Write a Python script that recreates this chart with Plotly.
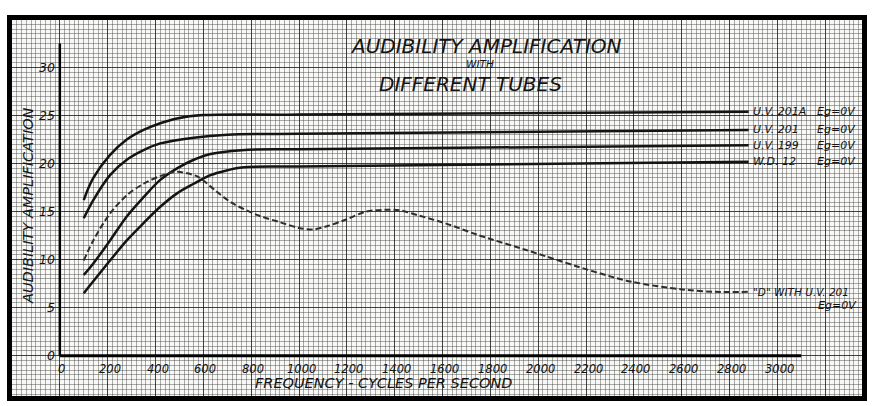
import plotly.graph_objects as go

# Audibility amplification vs. frequency for several receiving tubes (grid bias 0 V)
freq_uv201a = [100, 140, 210, 280, 350, 420, 490, 600, 1000, 2880]
amp_uv201a = [16.2, 18.5, 20.9, 22.5, 23.5, 24.2, 24.7, 25.05, 25.1, 25.4]

freq_uv201 = [100, 140, 210, 280, 350, 420, 560, 700, 1000, 2880]
amp_uv201 = [14.3, 16.2, 18.8, 20.4, 21.4, 22.1, 22.7, 23.0, 23.1, 23.5]

freq_uv199 = [100, 140, 210, 280, 350, 420, 490, 560, 630, 760, 1000, 2880]
amp_uv199 = [8.4, 9.6, 12.0, 14.5, 16.5, 18.3, 19.5, 20.4, 21.0, 21.4, 21.5, 21.9]

freq_wd12 = [100, 210, 280, 350, 420, 490, 560, 630, 700, 760, 1000, 2880]
amp_wd12 = [6.5, 9.9, 12.0, 13.8, 15.5, 16.9, 17.9, 18.8, 19.3, 19.6, 19.7, 20.2]

# "D" transformer with a UV-201
freq_d = [100, 140, 210, 280, 350, 420, 490, 530, 580, 650, 720, 830, 920, 1000,
          1060, 1120, 1200, 1280, 1380, 1420, 1500, 1610, 1750, 1950, 2240, 2390,
          2600, 2740, 2880]
amp_d = [9.9, 12.0, 14.8, 16.7, 17.9, 18.7, 19.15, 19.0, 18.6, 17.2, 15.9, 14.6,
         13.9, 13.3, 13.15, 13.5, 14.2, 15.0, 15.2, 15.15, 14.6, 13.8, 12.55, 11.0,
         8.7, 7.7, 6.9, 6.65, 6.65]

tube_names = ["U.V. 201A", "U.V. 201", "U.V. 199", "W.D. 12"]
bias_label = "Eg=0V"
d_label = '"D" WITH U.V. 201'

x_ticks = list(range(0, 3001, 200))
y_ticks = list(range(0, 31, 5))

# extent of the drawn axes and of the graph sheet
x_axis_end = 3100
y_axis_top = 32.5
x_range = [-200, 3354]
y_range = [-4.2, 34.95]

ink = "#141414"
font_family = "DejaVu Sans"

fig = go.Figure()

solid_series = [
    (freq_uv201a, amp_uv201a),
    (freq_uv201, amp_uv201),
    (freq_uv199, amp_uv199),
    (freq_wd12, amp_wd12),
]
for (fx, fy), name in zip(solid_series, tube_names):
    fig.add_trace(go.Scatter(
        x=fx, y=fy, mode="lines", name=name,
        line=dict(color=ink, width=2.5, shape="spline", smoothing=1.0),
        hoverinfo="skip",
    ))

fig.add_trace(go.Scatter(
    x=freq_d, y=amp_d, mode="lines", name=d_label,
    line=dict(color="#2e2e2e", width=2, dash="6px,3px", shape="spline", smoothing=0.9),
    hoverinfo="skip",
))

# the hand-ruled axes
fig.add_trace(go.Scatter(x=[0, x_axis_end], y=[0, 0], mode="lines",
                         line=dict(color="#000", width=3), hoverinfo="skip"))
fig.add_trace(go.Scatter(x=[0, 0], y=[0, y_axis_top], mode="lines",
                         line=dict(color="#000", width=2.5), hoverinfo="skip"))

annotations = []
# tick numbers written next to the axes
for t in y_ticks:
    annotations.append(dict(
        x=0, y=t, xref="x", yref="y", text=f"<i>{t}</i>", showarrow=False,
        xanchor="right", yanchor="middle", xshift=-3,
        font=dict(family=font_family, size=12.5, color=ink)))
for t in x_ticks:
    annotations.append(dict(
        x=t, y=0, xref="x", yref="y", text=f"<i>{t}</i>", showarrow=False,
        xanchor="center", yanchor="top", yshift=-4, xshift=2,
        font=dict(family=font_family, size=11.5, color=ink)))

# curve names at the right-hand ends
for (fx, fy), name in zip(solid_series, tube_names):
    annotations.append(dict(
        x=fx[-1], y=fy[-1], xref="x", yref="y", text=f"<i>{name}</i>",
        showarrow=False, xanchor="left", yanchor="middle", xshift=2,
        font=dict(family=font_family, size=11, color=ink)))
    annotations.append(dict(
        x=x_range[1], y=fy[-1], xref="x", yref="y", text=f"<i>{bias_label}</i>",
        showarrow=False, xanchor="right", yanchor="middle", xshift=-4,
        font=dict(family=font_family, size=11, color=ink)))
annotations.append(dict(
    x=freq_d[-1], y=amp_d[-1], xref="x", yref="y", text=f"<i>{d_label}</i>",
    showarrow=False, xanchor="left", yanchor="middle", xshift=2,
    font=dict(family=font_family, size=10.5, color=ink)))
annotations.append(dict(
    x=x_range[1], y=amp_d[-1], xref="x", yref="y", text=f"<i>{bias_label}</i>",
    showarrow=False, xanchor="right", yanchor="top", xshift=-3, yshift=-5,
    font=dict(family=font_family, size=11, color=ink)))

# title block
annotations += [
    dict(x=0.558, y=0.931, xref="paper", yref="paper", showarrow=False,
         text="<i>AUDIBILITY AMPLIFICATION</i>", xanchor="center", yanchor="middle",
         font=dict(family=font_family, size=20, color=ink)),
    dict(x=0.551, y=0.883, xref="paper", yref="paper", showarrow=False,
         text="<i>WITH</i>", xanchor="center", yanchor="middle",
         font=dict(family=font_family, size=10.5, color=ink)),
    dict(x=0.539, y=0.831, xref="paper", yref="paper", showarrow=False,
         text="<i>DIFFERENT TUBES</i>", xanchor="center", yanchor="middle",
         font=dict(family=font_family, size=20, color=ink)),
    dict(x=0.0195, y=0.507, xref="paper", yref="paper", showarrow=False,
         text="<i>AUDIBILITY AMPLIFICATION</i>", textangle=-90,
         xanchor="center", yanchor="middle",
         font=dict(family=font_family, size=14.5, color=ink)),
    dict(x=0.437, y=0.035, xref="paper", yref="paper", showarrow=False,
         text="<i>FREQUENCY - CYCLES PER SECOND</i>", xanchor="center", yanchor="middle",
         font=dict(family=font_family, size=14.5, color=ink)),
]

grid_minor = "rgba(60,60,60,0.42)"
grid_major = "rgba(20,20,20,0.8)"

fig.update_layout(
    width=877, height=406,
    margin=dict(l=12, r=12, t=20, b=10),
    paper_bgcolor="white",
    plot_bgcolor="#f8f8f6",
    showlegend=False,
    annotations=annotations,
    xaxis=dict(
        range=x_range, tick0=0, dtick=200, showticklabels=False, ticks="",
        showgrid=True, gridcolor=grid_major, gridwidth=1.2, zeroline=False,
        minor=dict(dtick=20, showgrid=True, gridcolor=grid_minor, gridwidth=1),
        showline=True, linecolor="#000", linewidth=5, mirror=True,
        fixedrange=True,
    ),
    yaxis=dict(
        range=y_range, tick0=0, dtick=5, showticklabels=False, ticks="",
        showgrid=True, gridcolor=grid_major, gridwidth=1.2, zeroline=False,
        minor=dict(dtick=0.5, showgrid=True, gridcolor=grid_minor, gridwidth=1),
        showline=True, linecolor="#000", linewidth=5, mirror=True,
        fixedrange=True,
    ),
)

fig.write_html("out.html")
